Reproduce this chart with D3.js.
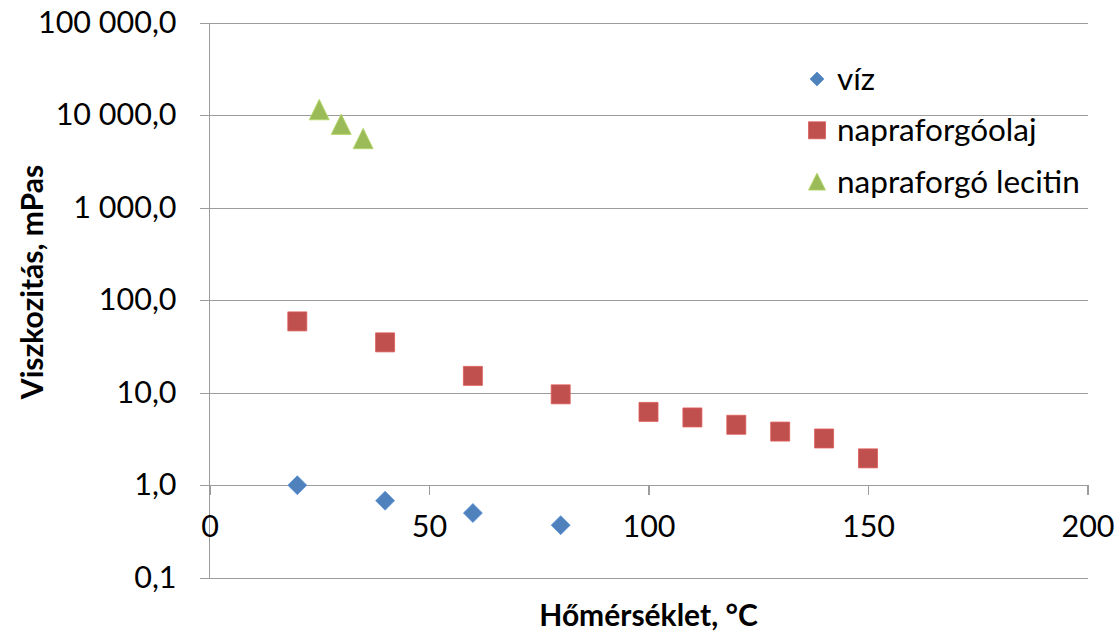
<!DOCTYPE html>
<html>
<head>
<meta charset="utf-8">
<script src="https://cdn.jsdelivr.net/npm/d3@7"></script>
<style>
  html, body { margin: 0; padding: 0; background: #fff; }
  svg { display: block; }
  text { font-family: Lato, "Liberation Sans", sans-serif; fill: #000; }
</style>
</head>
<body>
<svg id="chart" width="1117" height="632"></svg>
<script>
// Viscosity vs. temperature (log scale)
const vizTemp = [20, 40, 60, 80];
const vizVisc = [1.0, 0.68, 0.5, 0.37];

const olajTemp = [20, 40, 60, 80, 100, 110, 120, 130, 140, 150];
const olajVisc = [59, 35, 15.2, 9.6, 6.2, 5.4, 4.5, 3.8, 3.2, 1.95];

const lecitinTemp = [25, 30, 35];
const lecitinVisc = [11500, 8000, 5600];

const xTicks = [0, 50, 100, 150, 200];
const yTicks = [0.1, 1, 10, 100, 1000, 10000, 100000];

const seriesNames = ["víz", "napraforgóolaj", "napraforgó lecitin"];
const colors = ["#4F81BD", "#C0504D", "#9BBB59"];

const svg = d3.select("#chart");

const x = d3.scaleLinear().domain([0, 200]).range([209.5, 1087.5]);
const y = d3.scaleLog().domain([0.1, 100000]).range([577.7, 22.7]);

const huLocale = d3.formatLocale({ decimal: ",", thousands: "\u00a0", grouping: [3], currency: ["", " Ft"] });
const fmt = huLocale.format(",.1f");

const gridColor = "#9c9c9c";
const tickFont = 30.5;
const legendFont = 31.5;
const titleFont = 30;

// Horizontal gridlines with outer ticks
const yAxis = d3.axisLeft(y)
  .tickValues(yTicks)
  .tickSize(-(x(200) - x(0)))
  .tickFormat(fmt)
  .tickPadding(33);

const gy = svg.append("g")
  .attr("transform", `translate(${x(0)},0)`)
  .call(yAxis);
gy.select(".domain").remove();
gy.selectAll(".tick line")
  .attr("x1", -10)
  .attr("stroke", gridColor)
  .attr("stroke-width", 1.3)
  .attr("shape-rendering", "crispEdges");
gy.selectAll(".tick text")
  .attr("font-size", tickFont)
  .attr("font-family", "Lato, 'Liberation Sans', sans-serif")
  .attr("fill", "#000");

// Vertical value axis line
svg.append("line")
  .attr("x1", x(0)).attr("x2", x(0))
  .attr("y1", y(100000)).attr("y2", y(0.1))
  .attr("stroke", gridColor)
  .attr("stroke-width", 1.3)
  .attr("shape-rendering", "crispEdges");

// Horizontal axis crossing at 1,0
const xAxis = d3.axisBottom(x)
  .tickValues(xTicks)
  .tickSize(10)
  .tickPadding(20)
  .tickSizeOuter(0)
  .tickFormat(d3.format("d"));

const gx = svg.append("g")
  .attr("transform", `translate(0,${y(1)})`)
  .call(xAxis);
gx.select(".domain").remove();
gx.selectAll(".tick line")
  .attr("stroke", gridColor)
  .attr("stroke-width", 1.3)
  .attr("shape-rendering", "crispEdges");
gx.selectAll(".tick text")
  .attr("font-size", tickFont)
  .attr("font-family", "Lato, 'Liberation Sans', sans-serif")
  .attr("fill", "#000");

// Marker shapes
function diamond(r) {
  return `M0,${-r}L${r},0L0,${r}L${-r},0Z`;
}
function square(s) {
  const h = s / 2;
  return `M${-h},${-h}H${h}V${h}H${-h}Z`;
}
function triangle(w, h) {
  return `M0,${-h / 2}L${w / 2},${h / 2}L${-w / 2},${h / 2}Z`;
}

const shapes = [
  () => diamond(9.5),
  () => square(19),
  () => triangle(20, 20.5)
];
const legendShapes = [
  () => diamond(7),
  () => square(17),
  () => triangle(17, 17)
];

const series = [
  { temps: vizTemp, vals: vizVisc },
  { temps: olajTemp, vals: olajVisc },
  { temps: lecitinTemp, vals: lecitinVisc }
];

series.forEach((s, i) => {
  const pts = s.temps.map((t, j) => ({ t, v: s.vals[j] }));
  svg.append("g")
    .selectAll("path")
    .data(pts)
    .join("path")
    .attr("d", shapes[i]())
    .attr("transform", d => `translate(${x(d.t)},${y(d.v)})`)
    .attr("fill", colors[i])
    .attr("stroke", d3.color(colors[i]).brighter(0.4))
    .attr("stroke-width", 0.8);
});

// Legend
const legend = svg.append("g").attr("transform", "translate(817,79)");
seriesNames.forEach((name, i) => {
  const row = legend.append("g").attr("transform", `translate(0,${i * 51.3})`);
  row.append("path")
    .attr("d", legendShapes[i]())
    .attr("fill", colors[i])
    .attr("stroke", d3.color(colors[i]).brighter(0.4))
    .attr("stroke-width", 0.8);
  row.append("text")
    .attr("x", 20)
    .attr("dy", "0.35em")
    .attr("font-size", legendFont)
    .text(name);
});

// Axis titles
svg.append("text")
  .attr("x", x(100))
  .attr("y", 626)
  .attr("text-anchor", "middle")
  .attr("font-size", titleFont)
  .attr("font-weight", "bold")
  .text("Hőmérséklet, °C");

svg.append("text")
  .attr("transform", "translate(43,282) rotate(-90)")
  .attr("text-anchor", "middle")
  .attr("font-size", titleFont)
  .attr("font-weight", "bold")
  .text("Viszkozitás, mPas");
</script>
</body>
</html>
